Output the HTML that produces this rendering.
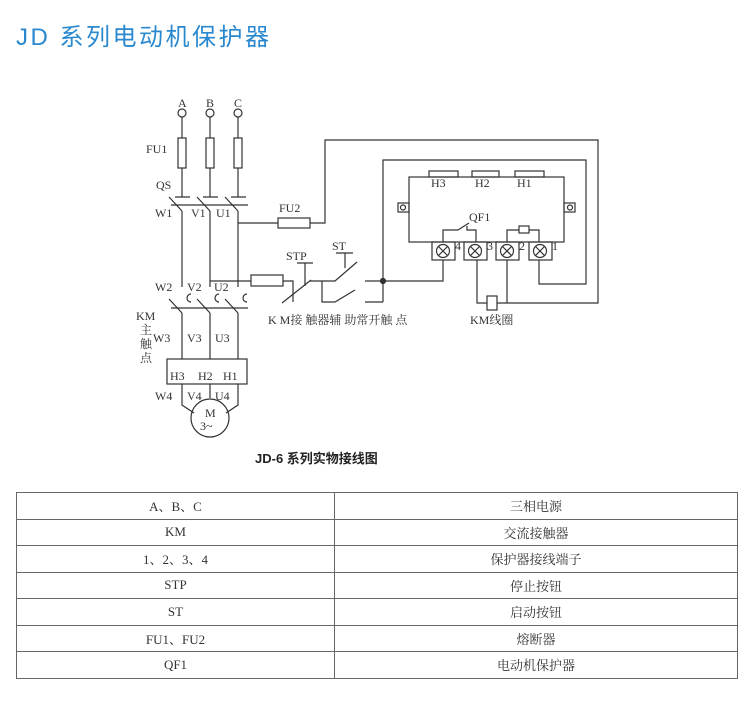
<!DOCTYPE html>
<html><head><meta charset="utf-8"><style>
body{margin:0;background:#fff;width:750px;height:707px;overflow:hidden;position:relative;font-family:"Liberation Serif","Noto Serif CJK SC",serif}
.t{position:absolute;left:16px;top:17px;font:24px "Liberation Sans","Noto Sans CJK SC",sans-serif;color:#2a88cf;letter-spacing:2.5px}
.cap{position:absolute;left:255px;top:448px;font:13px "Liberation Sans","Noto Sans CJK SC",sans-serif;color:#222;font-weight:600}
table{position:absolute;left:16px;top:492px;width:722px;border-collapse:collapse;font:13px "Liberation Serif","Noto Serif CJK SC",serif;color:#333}
td{border:1px solid #666;height:25.5px;padding:0;text-align:center}
</style></head><body>
<div class="t">JD 系列电动机保护器</div>
<svg width="750" height="707" style="position:absolute;left:0;top:0" font-family="Liberation Serif,Noto Serif CJK SC,serif" font-size="12" fill="#333">
<g stroke="#333" stroke-width="1.2" fill="none">
<circle cx="182" cy="113" r="4"/><circle cx="210" cy="113" r="4"/><circle cx="238" cy="113" r="4"/>
<path d="M182 117V197M210 117V197M238 117V197"/>
<rect x="178" y="138" width="8" height="30" fill="#fff"/><rect x="206" y="138" width="8" height="30" fill="#fff"/><rect x="234" y="138" width="8" height="30" fill="#fff"/>
<path d="M175 197H190M203 197H218M231 197H246"/>
<path d="M169 197L182 211M197 197L210 211M225 197L238 211"/>
<path d="M171 205H248"/>
<path d="M182 211V287M210 211V287M238 211V287"/>
<path d="M169 299L182 313M197 299L210 313M225 299L238 313"/>
<path d="M191 294a4 4 0 0 0 0 8M219 294a4 4 0 0 0 0 8M247 294a4 4 0 0 0 0 8"/>
<path d="M171 308H248"/>
<path d="M182 313V359M210 313V359M238 313V359"/>
<rect x="167" y="359" width="80" height="25"/>
<path d="M182 384V405L194 413M238 384V405L226 413M210 384V398"/>
<circle cx="210" cy="418" r="19"/>
<path d="M238 223H278M310 223H325V140H598V303H497M487 303H477V260"/>
<rect x="278" y="218" width="32" height="10"/>
<path d="M210 281H251M283 281H293V302"/>
<rect x="251" y="275" width="32" height="11"/>
<path d="M282 303L311 280M305 263V286M297 263H313M310 281H335L357 262M345 253V268M336 253H353"/>
<path d="M322 281V302H335L355 290"/>
<path d="M365 281H443V260M365 302H383M383 302V160H586V284H539V260"/>
<circle cx="383" cy="281" r="2.5" fill="#333"/>
<path d="M507 260V303"/>
<rect x="487" y="296" width="10" height="14" fill="#fff"/>
<rect x="409" y="177" width="155" height="65"/>
<rect x="429" y="171" width="29" height="6"/><rect x="472" y="171" width="27" height="6"/><rect x="515" y="171" width="29" height="6"/>
<rect x="398" y="203" width="11" height="9"/><rect x="564" y="203" width="11" height="9"/>
<circle cx="403" cy="207.5" r="2.5"/><circle cx="570" cy="207.5" r="2.5"/>
<path d="M443 242V230H458L469 223M467 226V230H476V242"/>
<path d="M507 242V230H539V242"/><rect x="519" y="226" width="10" height="7" fill="#fff"/>
<g>
<rect x="432" y="242" width="23" height="18"/><rect x="464" y="242" width="23" height="18"/><rect x="496" y="242" width="23" height="18"/><rect x="529" y="242" width="23" height="18"/>
<circle cx="443" cy="251" r="6.5"/><path d="M438.5 246.5l9 9M447.5 246.5l-9 9"/>
<circle cx="475" cy="251" r="6.5"/><path d="M470.5 246.5l9 9M479.5 246.5l-9 9"/>
<circle cx="507" cy="251" r="6.5"/><path d="M502.5 246.5l9 9M511.5 246.5l-9 9"/>
<circle cx="540" cy="251" r="6.5"/><path d="M535.5 246.5l9 9M544.5 246.5l-9 9"/>
</g>
</g>
<text x="178" y="107">A</text><text x="206" y="107">B</text><text x="234" y="107">C</text>
<text x="146" y="153">FU1</text><text x="156" y="189">QS</text>
<text x="155" y="217">W1</text><text x="191" y="217">V1</text><text x="216" y="217">U1</text>
<text x="155" y="291">W2</text><text x="187" y="291">V2</text><text x="214" y="291">U2</text>
<text x="136" y="320">KM</text><text x="140" y="334">主</text><text x="140" y="348">触</text><text x="140" y="362">点</text>
<text x="153" y="342">W3</text><text x="187" y="342">V3</text><text x="215" y="342">U3</text>
<text x="170" y="380">H3</text><text x="198" y="380">H2</text><text x="223" y="380">H1</text>
<text x="155" y="400">W4</text><text x="187" y="400">V4</text><text x="215" y="400">U4</text>
<text x="205" y="417">M</text><text x="200" y="430">3~</text>
<text x="279" y="212">FU2</text><text x="286" y="260">STP</text><text x="332" y="250">ST</text>
<text x="268" y="324">K M接  触器辅 助常开触 点</text><text x="470" y="324">KM线圈</text>
<text x="431" y="187">H3</text><text x="475" y="187">H2</text><text x="517" y="187">H1</text>
<text x="469" y="221">QF1</text>
<text x="455" y="250">4</text><text x="487" y="250">3</text><text x="519" y="250">2</text><text x="552" y="250">1</text>
</svg>
<div class="cap">JD-6 系列实物接线图</div>
<table>
<tr><td style="width:317px">A、B、C</td><td>三相电源</td></tr>
<tr><td>KM</td><td>交流接触器</td></tr>
<tr><td>1、2、3、4</td><td>保护器接线端子</td></tr>
<tr><td>STP</td><td>停止按钮</td></tr>
<tr><td>ST</td><td>启动按钮</td></tr>
<tr><td>FU1、FU2</td><td>熔断器</td></tr>
<tr><td>QF1</td><td>电动机保护器</td></tr>
</table>
</body></html>
